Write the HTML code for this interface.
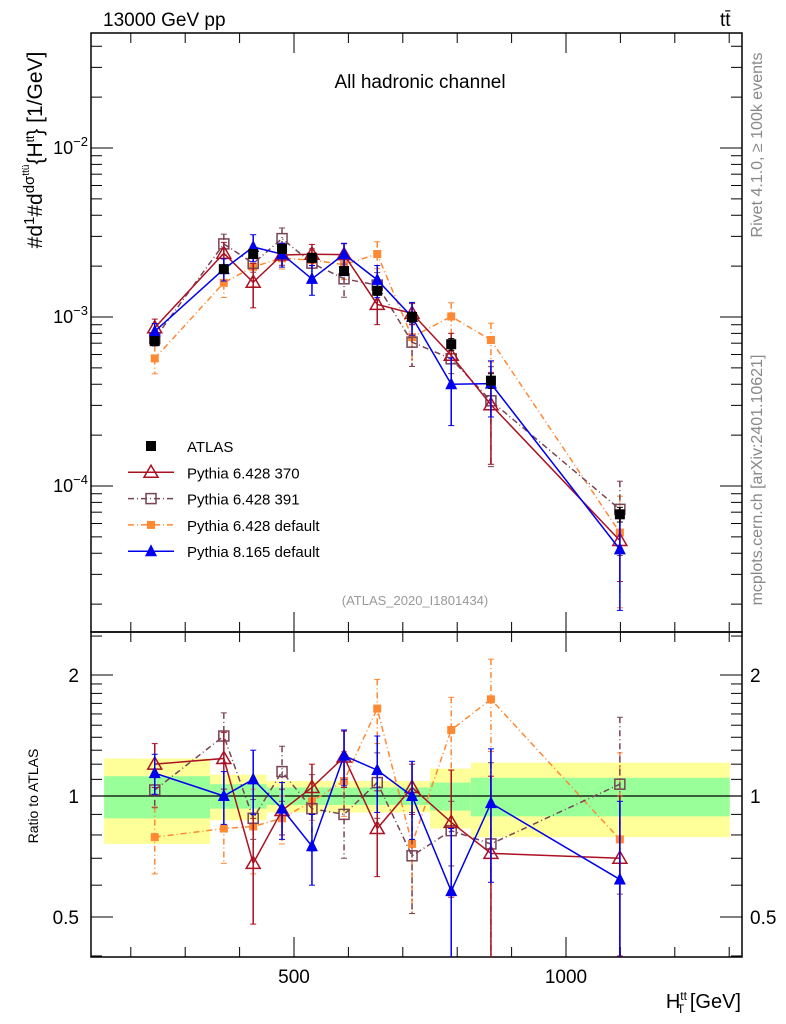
<!DOCTYPE html>
<html><head><meta charset="utf-8">
<style>
html,body{margin:0;padding:0;background:#fff;}
svg{display:block;font-family:"Liberation Sans",sans-serif;}
</style></head>
<body>
<svg id="chart" width="786" height="1024" viewBox="0 0 786 1024" xmlns="http://www.w3.org/2000/svg">
<defs>
<clipPath id="clipMain"><rect x="91" y="33" width="651" height="599"/></clipPath>
<clipPath id="clipRatio"><rect x="91" y="632" width="651" height="325"/></clipPath>
</defs>
<g id="bands"></g>
<g id="grid"></g>
<g id="seriesMain" clip-path="url(#clipMain)"></g>
<g id="seriesRatio" clip-path="url(#clipRatio)"></g>
<text x="103" y="26" font-size="19">13000 GeV pp</text>
<text x="720" y="26" font-size="19">tt̄</text>
<text x="420" y="88" font-size="19" text-anchor="middle">All hadronic channel</text>
<text x="415" y="605" font-size="13" fill="#999" text-anchor="middle">(ATLAS_2020_I1801434)</text>
<text transform="translate(762,145) rotate(-90)" font-size="16" fill="#888" text-anchor="middle">Rivet 4.1.0, ≥ 100k events</text>
<text transform="translate(762,480) rotate(-90)" font-size="16" fill="#888" text-anchor="middle">mcplots.cern.ch [arXiv:2401.10621]</text>
<text transform="translate(42,150) rotate(-90)" font-size="21" text-anchor="middle">#d<tspan font-size="15" dy="-8">1</tspan><tspan dy="8">#d</tspan><tspan font-size="15" dy="-8">dσ</tspan><tspan font-size="10" dy="-5">ttü</tspan><tspan dy="13">{H</tspan><tspan font-size="12" dy="-8">tt</tspan><tspan dy="8">} [1/GeV]</tspan></text>
<text transform="translate(38,796) rotate(-90)" font-size="14" text-anchor="middle">Ratio to ATLAS</text>
<text x="741" y="1008" font-size="20" text-anchor="end">H<tspan font-size="12" dy="-8">tt</tspan><tspan font-size="12" dx="-10" dy="13">T</tspan><tspan dy="-5"> [GeV]</tspan></text>
<g id="legend"></g>
</svg>
<script>
const xCenters=[244,371,425,478,533,592,653,717,789,862,1099];
const atlasVals=[7.2e-4,1.92e-3,2.36e-3,2.53e-3,2.24e-3,1.87e-3,1.43e-3,1.0e-3,6.9e-4,4.2e-4,6.8e-5];
const bandEdges=[151,346,450,750,825,1301];
const greenErr=[0.12,0.07,0.05,0.08,0.11];
const yellowErr=[0.24,0.13,0.09,0.17,0.21];
const ratio370=[1.20,1.24,0.68,0.92,1.05,1.25,0.83,1.05,0.86,0.72,0.70];
const err370=[0.15,0.2,0.2,0.12,0.15,0.2,0.2,0.15,0.3,0.4,0.3];
const ratio391=[1.035,1.41,0.88,1.15,0.93,0.90,1.08,0.71,0.82,0.76,1.07];
const err391=[0.1,0.2,0.1,0.18,0.2,0.2,0.2,0.2,0.15,0.45,0.5];
const ratioDef6=[0.79,0.83,0.84,0.88,0.97,1.09,1.65,0.76,1.46,1.74,0.78];
const errDef6=[0.15,0.15,0.2,0.12,0.1,0.2,0.3,0.25,0.3,0.45,0.5];
const ratioDef8=[1.14,1.0,1.10,0.93,0.75,1.26,1.16,1.0,0.58,0.96,0.62];
const errDef8=[0.13,0.15,0.2,0.15,0.15,0.2,0.25,0.22,0.25,0.35,0.35];
const xTicks=[200,300,400,500,600,700,800,900,1000,1100,1200,1300];
const xLabels=[500,1000];
const ratioTicks=[0.4,0.5,0.6,0.7,0.8,0.9,1.0,1.1,1.2,1.3,1.4,1.5,1.6,1.7,1.8,1.9,2.0,2.5];
const ratioLabels=[0.5,1,2];

const L=91,R=742,T=33,MB=632,RB=957;
const NS='http://www.w3.org/2000/svg';
function X(v){return 294+(v-500)*0.544;}
function Ym(v){return 148-169*(Math.log10(v)+2);}
function Yr(v){return 796-121*Math.log2(v);}
function mk(tag,attrs,parent){const e=document.createElementNS(NS,tag);for(const k in attrs)e.setAttribute(k,attrs[k]);parent.appendChild(e);return e;}

const bands=document.getElementById('bands');
for(let i=0;i<greenErr.length;i++){
  const x0=X(bandEdges[i]),x1=X(bandEdges[i+1]);
  let r=mk('rect',{x:x0,y:Yr(1+yellowErr[i]),width:x1-x0,height:Yr(1-yellowErr[i])-Yr(1+yellowErr[i]),fill:'#ffff99'},bands);
  
  
  let g=mk('rect',{x:x0,y:Yr(1+greenErr[i]),width:x1-x0,height:Yr(1-greenErr[i])-Yr(1+greenErr[i]),fill:'#99ff99'},bands);
  
  
}
const grid=document.getElementById('grid');
mk('rect',{x:L,y:T,width:R-L,height:MB-T,fill:'none',stroke:'#000','stroke-width':1.5},grid);
mk('rect',{x:L,y:MB,width:R-L,height:RB-MB,fill:'none',stroke:'#000','stroke-width':1.5},grid);
mk('line',{x1:L,x2:R,y1:Yr(1),y2:Yr(1),stroke:'#000','stroke-width':1.2},grid);
for(let d=-5;d<=-2;d++){for(let m=1;m<=9;m++){const v=m*Math.pow(10,d);const y=Ym(v);if(y<T||y>MB)continue;const len=m==1?22:11;
 mk('line',{x1:L,x2:L+len,y1:y,y2:y,stroke:'#000'},grid);mk('line',{x1:R,x2:R-len,y1:y,y2:y,stroke:'#000'},grid);}
 const y=Ym(Math.pow(10,d));if(y>=T&&y<=MB){const t=mk('text',{x:L-3,y:y+6,'font-size':18,'text-anchor':'end'},grid);t.textContent='10';const s=mk('tspan',{'font-size':13,dy:-8},t);s.textContent='−'+(-d);}}
ratioTicks.forEach(v=>{const y=Yr(v);const big=ratioLabels.includes(v);const len=big?22:11;
 mk('line',{x1:L,x2:L+len,y1:y,y2:y,stroke:'#000'},grid);mk('line',{x1:R,x2:R-len,y1:y,y2:y,stroke:'#000'},grid);});
ratioLabels.forEach(v=>{const y=Yr(v);
 let t=mk('text',{x:L-12,y:y+7,'font-size':19,'text-anchor':'end'},grid);t.textContent=v;
 t=mk('text',{x:R+8,y:y+7,'font-size':19},grid);t.textContent=v;});
xTicks.forEach(v=>{const x=X(v);if(x<L||x>R)return;const big=xLabels.includes(v);const len=big?20:10;
 [[T,1],[MB,1],[MB,-1],[RB,-1]].forEach(([y0,s])=>mk('line',{x1:x,x2:x,y1:y0,y2:y0+s*len,stroke:'#000'},grid));});
xLabels.forEach(v=>{const t=mk('text',{x:X(v),y:983,'font-size':19,'text-anchor':'middle'},grid);t.textContent=v;});

const serM=document.getElementById('seriesMain');
const serR=document.getElementById('seriesRatio');
function marker(g,type,x,y,color){
 const s=5;
 if(type==='sqf')mk('rect',{x:x-s,y:y-s,width:2*s,height:2*s,fill:color},g);
 else if(type==='sqfs')mk('rect',{x:x-4,y:y-4,width:8,height:8,fill:color},g);
 else if(type==='sqo')mk('rect',{x:x-5,y:y-5,width:10,height:10,fill:'none',stroke:color,'stroke-width':1.5},g);
 else if(type==='tro')mk('polygon',{points:`${x},${y-7} ${x-7},${y+5} ${x+7},${y+5}`,fill:'none',stroke:color,'stroke-width':1.5},g);
 else if(type==='trf')mk('polygon',{points:`${x},${y-7} ${x-6},${y+5} ${x+6},${y+5}`,fill:color},g);
}
function drawSeries(parent,name,vals,errs,color,dash,type,Yf,ratioMode){
 const g=mk('g',{},parent);
 
 
 const pts=vals.map((r,i)=>[X(xCenters[i]), ratioMode?Yf(r):Yf(r*atlasVals[i])]);
 if(color){const p=mk('polyline',{points:pts.map(p=>p.join(',')).join(' '),fill:'none',stroke:color,'stroke-width':1.5},g);if(dash)p.setAttribute('stroke-dasharray',dash);}
 vals.forEach((r,i)=>{const x=pts[i][0];
  const hi=ratioMode?Yf(r+errs[i]):Yf((r+errs[i])*atlasVals[i]);
  const lo=ratioMode?Yf(Math.max(r-errs[i],0.3)):Yf(Math.max(r-errs[i],0.05)*atlasVals[i]);
  const c=color||'#000';
  const l=mk('line',{x1:x,x2:x,y1:hi,y2:lo,stroke:c,'stroke-width':1.5},g);if(dash)l.setAttribute('stroke-dasharray',dash);
  mk('line',{x1:x-3,x2:x+3,y1:hi,y2:hi,stroke:c},g);mk('line',{x1:x-3,x2:x+3,y1:lo,y2:lo,stroke:c},g);
  marker(g,type,x,pts[i][1],c);});
}
const ones=atlasVals.map(()=>1);
drawSeries(serM,'pythia6-default-main',ratioDef6,errDef6,'#ff8833','6,3,1,3','sqfs',Ym,false);
drawSeries(serM,'pythia6-391-main',ratio391,err391,'#774455','6,3,1,3','sqo',Ym,false);
drawSeries(serM,'pythia6-370-main',ratio370,err370,'#aa1122',null,'tro',Ym,false);
drawSeries(serM,'pythia8-default-main',ratioDef8,errDef8,'#0000ee',null,'trf',Ym,false);
drawSeries(serM,'atlas-data-main',ones,[0.05,0.05,0.05,0.05,0.06,0.06,0.06,0.07,0.08,0.1,0.1],null,null,'sqf',Ym,false);
drawSeries(serR,'pythia6-default-ratio',ratioDef6,errDef6,'#ff8833','6,3,1,3','sqfs',Yr,true);
drawSeries(serR,'pythia6-391-ratio',ratio391,err391,'#774455','6,3,1,3','sqo',Yr,true);
drawSeries(serR,'pythia6-370-ratio',ratio370,err370,'#aa1122',null,'tro',Yr,true);
drawSeries(serR,'pythia8-default-ratio',ratioDef8,errDef8,'#0000ee',null,'trf',Yr,true);

const leg=document.getElementById('legend');
const items=[['ATLAS',null,null,'sqf'],['Pythia 6.428 370','#aa1122',null,'tro'],['Pythia 6.428 391','#774455','6,3,1,3','sqo'],['Pythia 6.428 default','#ff8833','6,3,1,3','sqfs'],['Pythia 8.165 default','#0000ee',null,'trf']];
items.forEach((it,i)=>{const y=446+i*26.3;const g=mk('g',{},leg);
 
 
 if(it[1]){const l=mk('line',{x1:128,x2:174,y1:y,y2:y,stroke:it[1],'stroke-width':1.5},g);if(it[2])l.setAttribute('stroke-dasharray',it[2]);}
 marker(g,it[3],151,y,it[1]||'#000');
 const t=mk('text',{x:187,y:y+6,'font-size':15},g);t.textContent=it[0];});
</script>
</body></html>
